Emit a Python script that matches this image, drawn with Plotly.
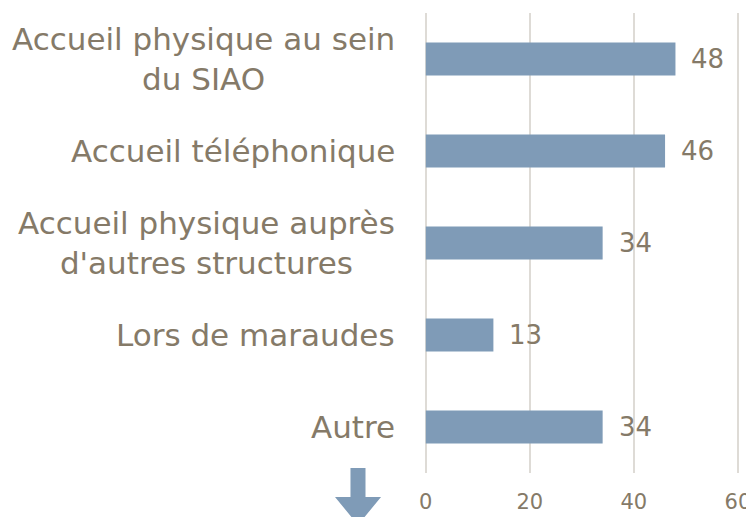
import plotly.graph_objects as go

categories = ["Accueil physique au sein<br>du SIAO", "Accueil téléphonique",
              "Accueil physique auprès<br>d'autres structures", "Lors de maraudes", "Autre"]
values = [48, 46, 34, 13, 34]
tick_vals = [0, 20, 40, 60]

TEXT = "#857a68"
BAR = "#7f9bb7"
GRID = "#dedbd6"
FONT = "DejaVu Sans"

fig = go.Figure(go.Bar(
    x=values, y=categories, orientation="h",
    marker=dict(color=BAR, line=dict(width=0)),
    width=0.36, hoverinfo="skip"))

for c, v in zip(categories, values):
    fig.add_annotation(x=v, y=c, xref="x", yref="y", text=str(v), showarrow=False,
                       xanchor="left", xshift=14, font=dict(family=FONT, size=26, color=TEXT))
    fig.add_annotation(x=0, y=c, xref="paper", yref="y", text=c, showarrow=False,
                       xanchor="right", align="center", xshift=-28,
                       font=dict(family=FONT, size=31, color=TEXT))

# decorative down arrow at bottom left
fig.add_shape(type="path", xref="paper", yref="paper",
              path="M -0.2358 0.0109 L -0.1883 0.0109 L -0.1883 -0.0522 L -0.1392 -0.0522 "
                   "L -0.2120 -0.1130 L -0.2848 -0.0522 L -0.2358 -0.0522 Z",
              fillcolor=BAR, line=dict(width=0))

# the page adds an 8px body margin; the figure is sized/margined to compensate
fig.update_layout(
    width=746, height=509,
    margin=dict(l=417, r=13, t=5, b=44),
    paper_bgcolor="white", plot_bgcolor="white",
    showlegend=False,
    xaxis=dict(range=[-0.15, 60.6], tickvals=tick_vals, showgrid=True, gridcolor=GRID, gridwidth=2,
               zeroline=True, zerolinecolor=GRID, zerolinewidth=2, showline=False, ticks="",
               ticklabelstandoff=14, automargin=False,
               tickfont=dict(family=FONT, size=21, color=TEXT), fixedrange=True),
    yaxis=dict(autorange="reversed", showticklabels=False, showgrid=False, zeroline=False,
               showline=False, ticks="", automargin=False, fixedrange=True),
)

fig.write_html("out.html")
